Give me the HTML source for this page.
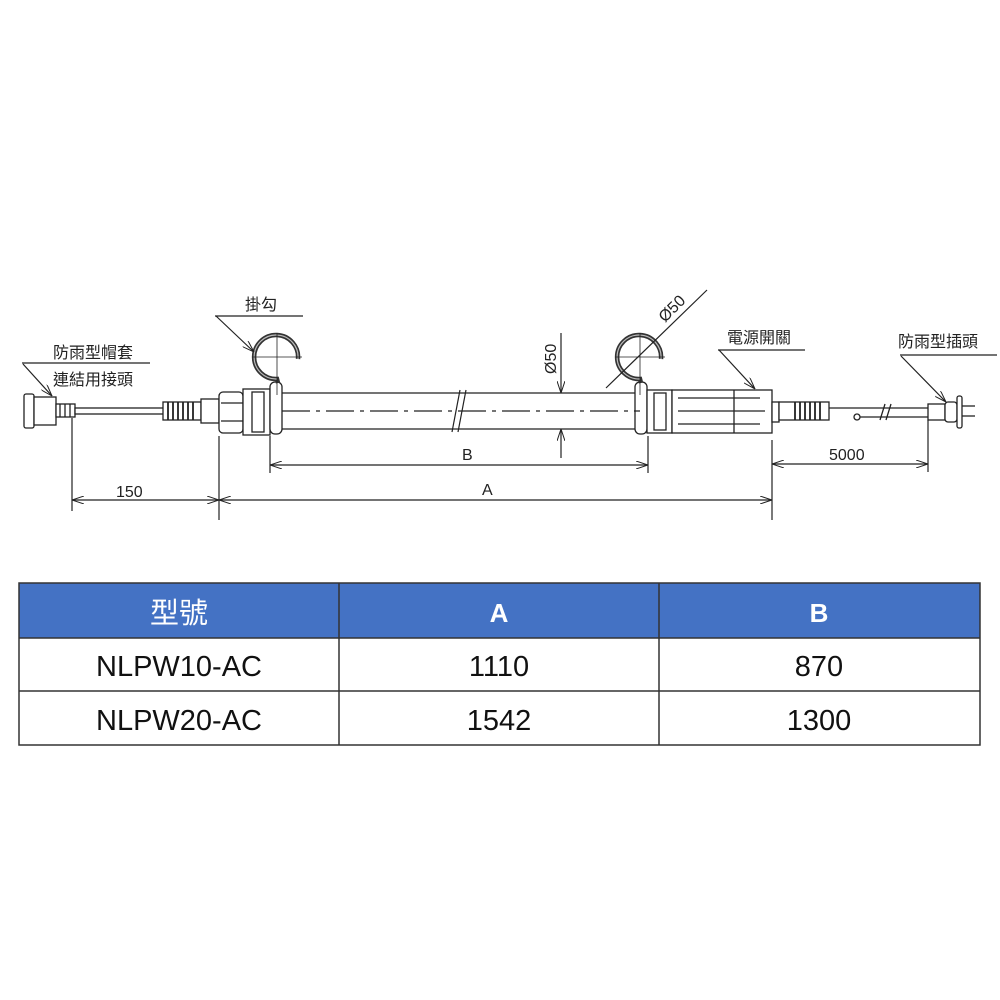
<!DOCTYPE html>
<html><head><meta charset="utf-8"><style>
body{margin:0;background:#fff;}
svg{display:block}
</style></head><body>
<svg width="1000" height="1000" viewBox="0 0 1000 1000" xmlns="http://www.w3.org/2000/svg" font-family="Liberation Sans, Noto Sans CJK TC, sans-serif">
<defs>
<marker id="ar" viewBox="0 0 12 8" refX="12" refY="4" markerWidth="12" markerHeight="8" orient="auto-start-reverse" markerUnits="userSpaceOnUse">
<path d="M0,0 L12,4 L0,8" fill="none" stroke="#222" stroke-width="1"/></marker>
</defs>
<g stroke="#222" stroke-width="1.3" fill="#fff">
<rect x="24" y="394" width="10" height="34" rx="2"/>
<rect x="34" y="397" width="22" height="28"/>
<rect x="56" y="404" width="19" height="13"/>
<line x1="60" y1="404" x2="60" y2="417"/><line x1="65" y1="404" x2="65" y2="417"/><line x1="70" y1="404" x2="70" y2="417"/>
<rect x="75" y="408" width="90" height="6"/>
<rect x="163" y="402" width="38" height="18"/>
<g stroke-width="1.8"><line x1="168" y1="402" x2="168" y2="420"/><line x1="173" y1="402" x2="173" y2="420"/><line x1="178" y1="402" x2="178" y2="420"/><line x1="183" y1="402" x2="183" y2="420"/><line x1="188" y1="402" x2="188" y2="420"/><line x1="193" y1="402" x2="193" y2="420"/></g>
<rect x="201" y="399" width="18" height="24"/>
<rect x="219" y="392" width="24" height="41" rx="4"/>
<rect x="243" y="389" width="27" height="46"/>
<line x1="221" y1="403" x2="243" y2="403"/><line x1="221" y1="421" x2="243" y2="421"/>
<rect x="252" y="392" width="12" height="40"/>
<line x1="282" y1="393" x2="636" y2="393"/>
<line x1="282" y1="429" x2="636" y2="429"/>
<rect x="270" y="382" width="12" height="52" rx="5"/>
<rect x="635" y="382" width="12" height="52" rx="5"/>
<rect x="647" y="390" width="25" height="43"/>
<rect x="654" y="393" width="12" height="37"/>
<rect x="672" y="390" width="100" height="43"/>
<line x1="734" y1="390" x2="734" y2="433"/>
<line x1="678" y1="398" x2="760" y2="398"/><line x1="678" y1="411" x2="765" y2="411"/><line x1="678" y1="424" x2="760" y2="424"/>
<rect x="772" y="402" width="7" height="20"/>
<rect x="779" y="402" width="50" height="18"/>
<g stroke-width="1.8"><line x1="795" y1="402" x2="795" y2="420"/><line x1="800" y1="402" x2="800" y2="420"/><line x1="805" y1="402" x2="805" y2="420"/><line x1="810" y1="402" x2="810" y2="420"/><line x1="815" y1="402" x2="815" y2="420"/><line x1="820" y1="402" x2="820" y2="420"/></g>
<line x1="829" y1="408" x2="928" y2="408"/>
<line x1="860" y1="417" x2="928" y2="417"/>
<circle cx="857" cy="417" r="3"/>
<line x1="880" y1="420" x2="885" y2="404"/><line x1="886" y1="420" x2="891" y2="404"/>
<rect x="928" y="404" width="17" height="16"/>
<rect x="945" y="402" width="12" height="20" rx="3"/>
<rect x="957" y="396" width="5" height="32" rx="2"/>
<line x1="962" y1="406" x2="975" y2="406"/><line x1="962" y1="416" x2="975" y2="416"/>
</g>
<g stroke="#222" stroke-width="1.2" fill="none">
<line x1="452" y1="432" x2="460" y2="390"/><line x1="458" y1="432" x2="466" y2="390"/>
<line x1="282" y1="411" x2="640" y2="411" stroke-dasharray="28,6,4,6"/>
<path d="M298,359 A22,22 0 1 0 277,379 L278,383" stroke="#333" stroke-width="4.5"/>
<path d="M298,359 A22,22 0 1 0 277,379" stroke="#bbb" stroke-width="1.2"/>
<line x1="277" y1="333" x2="277" y2="395" stroke-width="0.8"/><line x1="252" y1="357" x2="302" y2="357" stroke-width="0.8"/>
<path d="M661,359 A22,22 0 1 0 640,379 L641,383" stroke="#333" stroke-width="4.5"/>
<path d="M661,359 A22,22 0 1 0 640,379" stroke="#bbb" stroke-width="1.2"/>
<line x1="640" y1="333" x2="640" y2="395" stroke-width="0.8"/><line x1="615" y1="357" x2="665" y2="357" stroke-width="0.8"/>
<line x1="215" y1="316" x2="303" y2="316"/><line x1="216" y1="316" x2="254" y2="352" marker-end="url(#ar)"/>
<line x1="22" y1="363" x2="150" y2="363"/><line x1="23" y1="364" x2="52" y2="396" marker-end="url(#ar)"/>
<line x1="718" y1="350" x2="805" y2="350"/><line x1="719" y1="350" x2="755" y2="389" marker-end="url(#ar)"/>
<line x1="900" y1="355" x2="997" y2="355"/><line x1="901" y1="356" x2="946" y2="402" marker-end="url(#ar)"/>
<line x1="561" y1="333" x2="561" y2="393" marker-end="url(#ar)"/>
<line x1="561" y1="458" x2="561" y2="429" marker-end="url(#ar)"/>
<line x1="707" y1="290" x2="606" y2="388"/>
<line x1="72" y1="418" x2="72" y2="511"/>
<line x1="219" y1="436" x2="219" y2="520"/>
<line x1="270" y1="436" x2="270" y2="473"/>
<line x1="648" y1="436" x2="648" y2="473"/>
<line x1="772" y1="440" x2="772" y2="520"/>
<line x1="928" y1="420" x2="928" y2="472"/>
<line x1="72" y1="500" x2="219" y2="500" marker-start="url(#ar)" marker-end="url(#ar)"/>
<line x1="219" y1="500" x2="772" y2="500" marker-start="url(#ar)" marker-end="url(#ar)"/>
<line x1="270" y1="465" x2="648" y2="465" marker-start="url(#ar)" marker-end="url(#ar)"/>
<line x1="772" y1="464" x2="928" y2="464" marker-start="url(#ar)" marker-end="url(#ar)"/>
</g>
<g fill="#222" font-size="16">
<text x="245" y="310">掛勾</text>
<text x="53" y="358">防雨型帽套</text>
<text x="53" y="385">連結用接頭</text>
<text x="727" y="343">電源開關</text>
<text x="898" y="347">防雨型插頭</text>
<text x="116" y="497">150</text>
<text x="482" y="495">A</text>
<text x="462" y="460">B</text>
<text x="829" y="460">5000</text>
<text transform="translate(556,374) rotate(-90)">Ø50</text>
<text transform="translate(665,323) rotate(-45)">Ø50</text>
</g>
<rect x="19" y="583" width="961" height="55" fill="#4472C4"/>
<g stroke="#333" stroke-width="1.5" fill="none">
<rect x="19" y="583" width="961" height="162"/>
<line x1="19" y1="638" x2="980" y2="638"/>
<line x1="19" y1="691" x2="980" y2="691"/>
<line x1="339" y1="583" x2="339" y2="745"/>
<line x1="659" y1="583" x2="659" y2="745"/>
</g>
<g font-size="29" text-anchor="middle">
<text x="179" y="623" fill="#fff">型號</text>
<text x="499" y="622" fill="#fff" font-weight="bold" font-size="26">A</text>
<text x="819" y="622" fill="#fff" font-weight="bold" font-size="26">B</text>
<text x="179" y="676" fill="#111">NLPW10-AC</text>
<text x="499" y="676" fill="#111">1110</text>
<text x="819" y="676" fill="#111">870</text>
<text x="179" y="730" fill="#111">NLPW20-AC</text>
<text x="499" y="730" fill="#111">1542</text>
<text x="819" y="730" fill="#111">1300</text>
</g>
</svg>
</body></html>
